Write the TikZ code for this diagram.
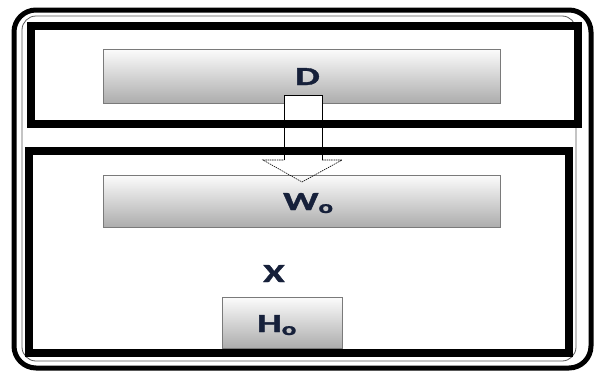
\documentclass[tikz,border=0pt]{standalone}
\usepackage{fontspec}
\setmainfont{Carlito}
\newfontfamily\lblfont{Carlito}[BoldFeatures={FakeBold=1.2}]
\usepackage{graphicx}
\definecolor{txt}{HTML}{16203A}
\definecolor{barline}{HTML}{7A7A7A}
\newcommand{\stretchtxt}[1]{\scalebox{1.5}[1]{#1}}
\newcommand{\subo}{\raisebox{-3pt}{\fontsize{18}{18}\selectfont o}}
\begin{document}
\begin{tikzpicture}[x=1pt,y=-1pt,
  lbl/.style={font=\lblfont\fontsize{26}{26}\selectfont\bfseries, text=txt, inner sep=0pt, anchor=base west},
  bar/.style={draw=barline, line width=0.8pt, top color=gray!3, bottom color=gray!65, inner sep=0pt, anchor=north west},
  frame/.style={draw=black, line width=8pt},
  headline/.style={draw=black, line width=0.6pt, dash pattern=on 1.5pt off 0.8pt},
  shaftline/.style={draw=black, line width=0.9pt}]
\useasboundingbox (0,0) rectangle (595,375);
% outer double border
\draw[line width=5pt, rounded corners=22pt] (14,10) rectangle (591,368);
\draw[line width=0.8pt, gray!70!black, rounded corners=14pt] (22,16) rectangle (576,361);
% D bar
\node[bar, minimum width=397pt, minimum height=54pt] (Dbar) at (103,49) {};
% arrow coordinates
\coordinate (a1) at (284,95);
\coordinate (a2) at (322,95);
\coordinate (a3) at (322,160);
\coordinate (a4) at (342,160);
\coordinate (tip) at (302,182);
\coordinate (a6) at (263,160);
\coordinate (a7) at (284,160);
\fill[white] (a1) -- (a2) -- (a3) -- (a4) -- (tip) -- (a6) -- (a7) -- cycle;
% frames
\draw[frame] (31,26) rectangle (578,124);
\draw[frame] (29,151) rectangle (569,353);
% W bar and H box
\node[bar, minimum width=397pt, minimum height=52pt] (Wbar) at (103,175) {};
\node[bar, minimum width=120pt, minimum height=51pt] (Hbox) at (222,297) {};
% arrow outline
\draw[shaftline] (a7) -- (a1) -- (a2) -- (a3);
\draw[headline] (a3) -- (a4) -- (tip) -- (a6) -- (a7);
% labels
\node[lbl] (Dl) at (295,85) {\stretchtxt{D}};
\node[lbl] (Wl) at (283,210) {\stretchtxt{W\subo}};
\node[lbl] (Xl) at (263,282) {\stretchtxt{X}};
\node[lbl] (Hl) at (257,332) {\stretchtxt{H\subo}};
\end{tikzpicture}
\end{document}
